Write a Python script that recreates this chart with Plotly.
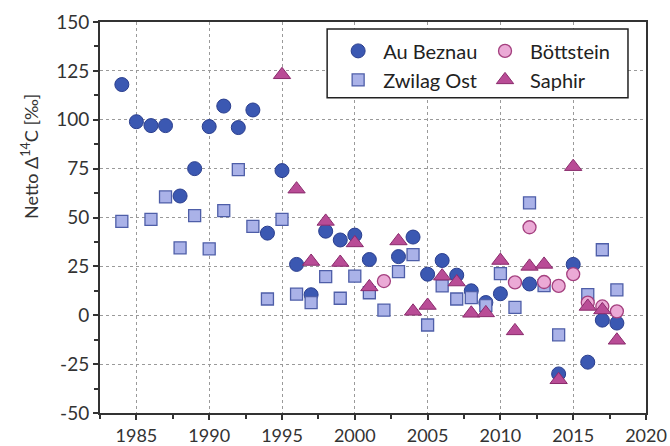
import plotly.graph_objects as go

# ---- data ----
au_years = [1984, 1985, 1986, 1987, 1988, 1989, 1990, 1991, 1992, 1993, 1994, 1995,
            1996, 1997, 1998, 1999, 2000, 2001, 2003, 2004, 2005, 2006, 2007, 2008,
            2009, 2010, 2012, 2014, 2015, 2016, 2017, 2018]
au_vals = [118, 99, 97, 97, 61, 75, 96.5, 107, 96, 105, 42, 74,
           26, 10.5, 43, 38.5, 41, 28.5, 30, 40, 21, 28, 20.5, 12.5,
           6.5, 11, 16, -30, 26, -24, -2.5, -4]

zw_years = [1984, 1986, 1987, 1988, 1989, 1990, 1991, 1992, 1993, 1994, 1995, 1996,
            1997, 1998, 1999, 2000, 2001, 2002, 2003, 2004, 2005, 2006, 2007, 2008,
            2009, 2010, 2011, 2012, 2013, 2014, 2016, 2017, 2018]
zw_vals = [48, 49, 60.5, 34.5, 51, 34, 53.5, 74.5, 45.5, 8.3, 49, 10.8,
           6.5, 19.8, 8.7, 20, 11.5, 2.6, 22.3, 31, -5, 15, 8.3, 9,
           5, 21.3, 4, 57.5, 15.2, -10, 10.5, 33.5, 13]

bo_years = [2002, 2011, 2012, 2013, 2014, 2015, 2016, 2017, 2018]
bo_vals = [17.5, 16.8, 45, 17, 15, 21, 6.5, 4.5, 2]

sa_years = [1995, 1996, 1997, 1998, 1999, 2000, 2001, 2003, 2004, 2005, 2006, 2007,
            2008, 2009, 2010, 2011, 2012, 2013, 2014, 2015, 2016, 2017, 2018]
sa_vals = [123, 64.5, 27.5, 48, 27, 37, 14.5, 38, 2, 5, 20, 17,
           1, 1.2, 28, -8, 25, 26, -33, 76, 4.5, 2.7, -12.8]

y_tickvals = [-50, -25, 0, 25, 50, 75, 100, 125, 150]
y_ticktext = ["-50", "-25", "0", "25", "50", "75", "100", "125", "150"]
x_tickvals = [1985, 1990, 1995, 2000, 2005, 2010, 2015, 2020]
y_title = "Netto Δ<sup>14</sup>C [‰]"

FONT = "Lato, 'Open Sans', sans-serif"

fig = go.Figure()

fig.add_trace(go.Scatter(
    x=au_years, y=au_vals, mode="markers", name="Au Beznau",
    legend="legend", legendgroup="a",
    marker=dict(symbol="circle", size=14, color="#3b58b2",
                line=dict(color="#2a3e8e", width=1))))
fig.add_trace(go.Scatter(
    x=zw_years, y=zw_vals, mode="markers", name="Zwilag Ost",
    legend="legend", legendgroup="b",
    marker=dict(symbol="square", size=12, color="#aab2e8",
                line=dict(color="#4e5ea8", width=1.3))))
fig.add_trace(go.Scatter(
    x=bo_years, y=bo_vals, mode="markers", name="Böttstein",
    legend="legend2", legendgroup="c",
    marker=dict(symbol="circle", size=13, color="#ebaad6",
                line=dict(color="#a4407f", width=1.3))))
fig.add_trace(go.Scatter(
    x=sa_years, y=sa_vals, mode="markers", name="Saphir",
    legend="legend2", legendgroup="d",
    marker=dict(symbol="triangle-up", size=15, color="#b94c96",
                line=dict(color="#8a2b6c", width=1))))

axis_common = dict(
    showline=True, linecolor="#333333", linewidth=2, mirror=True,
    ticks="outside", ticklen=5, tickwidth=1.5, tickcolor="#333333",
    showgrid=True, gridcolor="#9a9a9a", griddash="dot", gridwidth=1,
    zeroline=False, automargin=False,
    tickfont=dict(family=FONT, size=19, color="#333333"),
)

fig.update_xaxes(range=[1982.5, 2020], tickvals=x_tickvals,
                 minor=dict(ticks="outside", ticklen=4, dtick=2.5, tick0=1982.5,
                            tickcolor="#333333", showgrid=False),
                 **axis_common)
fig.update_xaxes(tickfont=dict(family=FONT, size=18, color="#333333"))
fig.update_yaxes(range=[-50, 150], tickvals=y_tickvals, ticktext=y_ticktext,
                 minor=dict(ticks="outside", ticklen=4, dtick=12.5, tick0=-50,
                            tickcolor="#333333", showgrid=False),
                 **axis_common)

# y-axis title as rotated annotation (positioned like the reference)
fig.add_annotation(text=y_title, xref="paper", yref="paper",
                   x=-0.128, y=0.655, xanchor="center", yanchor="middle",
                   textangle=-90, showarrow=False,
                   font=dict(family=FONT, size=18, color="#333333"))

legend_common = dict(
    bgcolor="rgba(0,0,0,0)", borderwidth=0,
    font=dict(family=FONT, size=20, color="#222222"),
    yanchor="top", xanchor="left", tracegroupgap=0, itemsizing="trace",
    itemwidth=40,
)
fig.update_layout(
    legend=dict(x=0.427, y=0.976, **legend_common),
    legend2=dict(x=0.696, y=0.976, **legend_common),
)

# legend frame
fig.add_shape(type="rect", xref="paper", yref="paper",
              x0=0.416, x1=0.967, y0=0.806, y1=0.982,
              line=dict(color="#222222", width=1.5), fillcolor="white",
              layer="above")

fig.update_layout(
    width=670, height=446,
    margin=dict(l=100, r=24, t=22, b=33),
    paper_bgcolor="white", plot_bgcolor="white",
    showlegend=True,
)

fig.write_html("out.html", config={"displayModeBar": False},
               post_script="document.body.style.margin='0';document.body.style.overflow='hidden';")
